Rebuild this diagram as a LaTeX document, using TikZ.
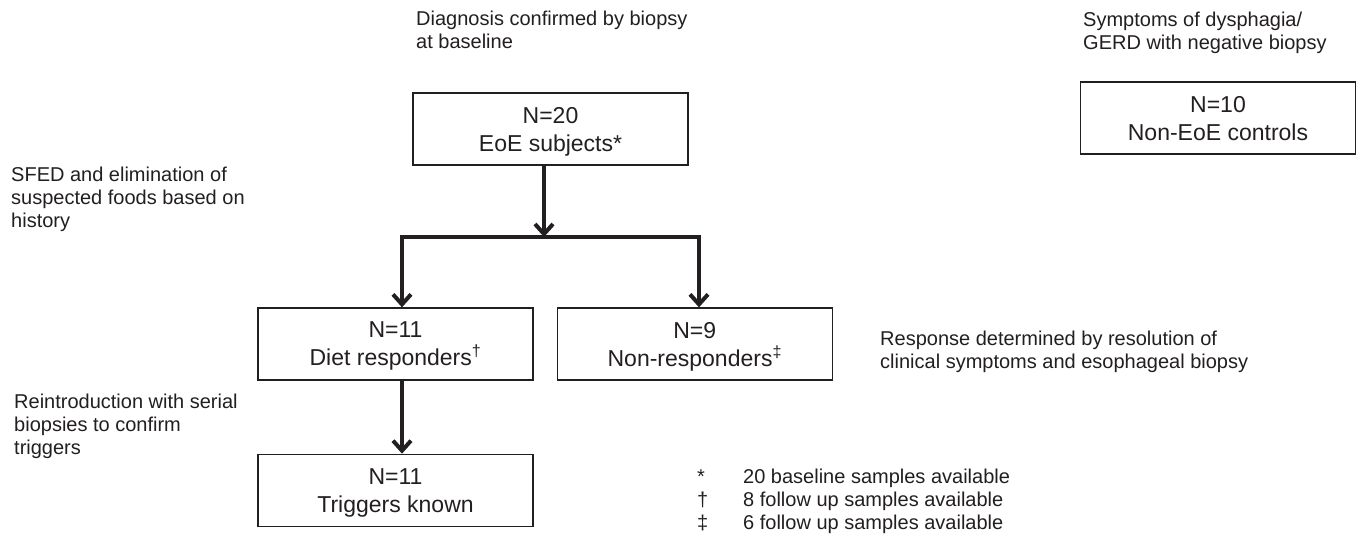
\documentclass[tikz,border=0pt]{standalone}
\usepackage{fontspec}
\setmainfont{Liberation Sans}
\usetikzlibrary{positioning,arrows.meta}
\definecolor{ink}{HTML}{231F20}
\tikzset{box/.style={draw=ink,line width=1.3pt,minimum width=275pt,minimum height=72pt,inner sep=0pt,align=center,text=ink,font=\fontsize{23}{28}\selectfont,text depth=0pt}}
\tikzset{note/.style={anchor=base west,align=left,inner sep=0pt,text=ink,font=\fontsize{20}{23}\selectfont}}
\tikzset{flow/.style={draw=ink,line width=4pt}}
\tikzset{arr/.style={flow,-{Straight Barb[length=10pt,width=18pt]}}}

\begin{document}
\begin{tikzpicture}[x=1pt,y=-1pt]

	%% Page frame
	\fill[white] (0,0) rectangle (1360,545);
	\useasboundingbox (0,0) rectangle (1360,545);

	%% Boxes
	\node[box] (eoe) at (550.5,129) {N=20\\EoE subjects*};
	\node[box] (ctrl) at (1218,118) {N=10\\Non-EoE controls};
	\node[box] (resp) at (395.5,344) {N=11\\Diet responders\textsuperscript{†}};
	\node[box, right=23pt of resp] (nonresp) {N=9\\Non-responders\textsuperscript{‡}};
	\node[box, below=73pt of resp] (trig) {N=11\\Triggers known};

	%% Side notes (placed at the baseline of their last line)
	\node[note] (diag) at (416,49) {Diagnosis confirmed by biopsy\\at baseline};
	\node[note] (sympt) at (1083,50) {Symptoms of dysphagia/\\GERD with negative biopsy};
	\node[note] (sfed) at (11,228) {SFED and elimination of\\suspected foods based on\\history};
	\node[note] (respnote) at (880,368) {Response determined by resolution of\\clinical symptoms and esophageal biopsy};
	\node[note] (reintro) at (14,454) {Reintroduction with serial\\biopsies to confirm\\triggers};

	%% Footnotes
	\node[note] (marks) at (697,529) {*\\†\\‡};
	\node[note] (foot) at (743,529) {20 baseline samples available\\8 follow up samples available\\6 follow up samples available};

	%% Arrows
	\coordinate (lbend) at (402,237);
	\coordinate (rbend) at (699,237);
	\draw[arr] ([xshift=-6.5pt]eoe.south) -- ([xshift=-6.5pt]eoe.south |- lbend);
	\draw[flow,line cap=rect] (lbend) -- (rbend);
	\draw[arr] (lbend) -- (lbend |- resp.north);
	\draw[arr] (rbend) -- (rbend |- nonresp.north);
	\draw[arr] ([xshift=6.5pt]resp.south) -- ([xshift=6.5pt]trig.north);

\end{tikzpicture}
\end{document}
